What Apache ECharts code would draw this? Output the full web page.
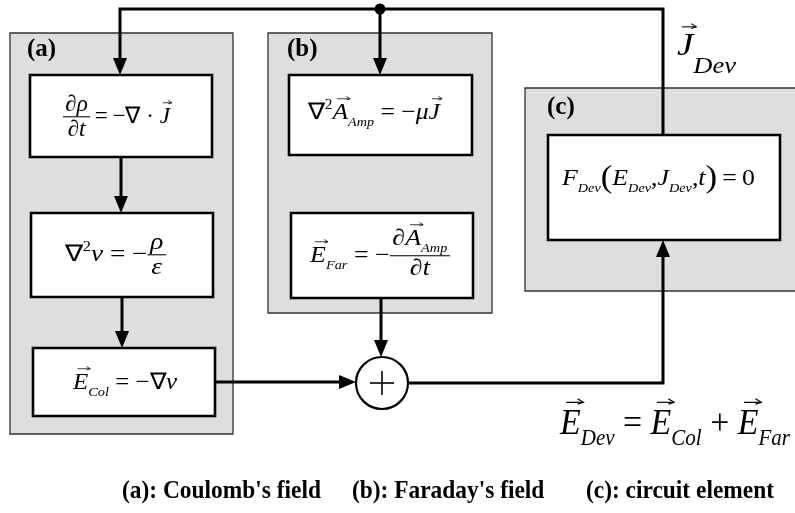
<!DOCTYPE html>
<html><head><meta charset="utf-8">
<script src="https://cdn.jsdelivr.net/npm/echarts@6/dist/echarts.min.js"></script>
<style>html,body{margin:0;padding:0;background:#fff}#main{width:795px;height:513px}</style>
</head><body><div id="main"></div>
<script>
// ---------- diagram content ----------
const panelNames = ['(a)', '(b)', '(c)'];
const panelRects = [[10, 33, 233, 434], [268, 33, 492, 313], [525, 88, 800, 291]];
const panelLabelPos = [[27, 50], [287, 50], [547, 108]];
const boxRects = [[30, 75, 212, 157], [31, 213, 213, 297], [33, 348, 215, 416],
                  [289, 75, 472, 155], [291, 213, 473, 298], [548, 135, 780, 240]];
const wires = [
  [[663, 135], [663, 9], [120, 9], [120, 75]],
  [[380, 9], [380, 75]],
  [[121, 157], [121, 213]],
  [[122, 297], [122, 348]],
  [[381, 298], [381, 357]],
  [[215, 382], [356, 382]],
  [[408, 383], [663, 383], [663, 240]]
];
const junctions = [[380, 9]];
const sumNodes = [[382, 383]];
const legendTexts = ["(a): Coulomb's field", "(b): Faraday's field", "(c): circuit element"];
const legendPos = [[122, 491], [352, 491], [586, 491]];

// formula token lists
const formulaTokens = [
  [{frac: [[{t: '∂'}, {t: 'ρ', f: 'i'}], [{t: '∂'}, {t: 't', f: 'i'}]]}, {t: '\u2009=\u2009−∇ · '}, {v: 'J'}],
  [{t: '∇'}, {sup: '2'}, {t: 'v', f: 'i'}, {t: ' = −'}, {frac: [[{t: 'ρ', f: 'i'}], [{t: 'ε', f: 'i'}]]}],
  [{v: 'E'}, {sub: 'Col'}, {t: ' = −∇'}, {t: 'v', f: 'i'}],
  [{t: '∇'}, {sup: '2'}, {v: 'A'}, {sub: 'Amp'}, {t: ' = −'}, {t: 'μ', f: 'i'}, {v: 'J'}],
  [{v: 'E'}, {sub: 'Far'}, {t: ' = −'}, {frac: [[{t: '∂'}, {v: 'A'}, {sub: 'Amp'}], [{t: '∂'}, {t: 't', f: 'i'}]]}],
  [{t: 'F', f: 'i'}, {sub: 'Dev'}, {t: '(', s: 1.35, dy: 0.08}, {t: 'E', f: 'i'}, {sub: 'Dev'}, {t: ','}, {t: 'J', f: 'i'}, {sub: 'Dev'}, {t: ','}, {t: 't', f: 'i'}, {t: ')', s: 1.35, dy: 0.08}, {t: '\u2009=\u20090'}],
  [{v: 'J'}, {sub: 'Dev'}],
  [{v: 'E'}, {sub: 'Dev'}, {t: ' = '}, {v: 'E'}, {sub: 'Col'}, {t: ' + '}, {v: 'E'}, {sub: 'Far'}]
];
// layout of formulas: [leftX, rightX, baselineY, fontSize, subScale, subDrop]
const formulaLayout = [
  [63, 170, 123, 23, 0.6, 0.3],
  [65, 166, 261, 23, 0.6, 0.3],
  [73, 177, 389, 23, 0.58, 0.32],
  [308, 440, 119, 23, 0.55, 0.32],
  [310, 450, 262, 23, 0.55, 0.32],
  [562, 755, 185, 23, 0.55, 0.32],
  [677, 736, 55, 32, 0.72, 0.56],
  [560, 790, 434, 36, 0.62, 0.3]
];

// ---------- text layout helpers ----------
const FONT = '"Liberation Serif","Times New Roman",serif';
const ctx = document.createElement('canvas').getContext('2d');
function fnt(st, size) {
  return (st.indexOf('i') >= 0 ? 'italic ' : '') + (st.indexOf('b') >= 0 ? 'bold ' : '') + size.toFixed(1) + 'px ' + FONT;
}
function mw(text, font) { ctx.font = font; ctx.textBaseline = 'alphabetic'; return ctx.measureText(text).width; }
function midOff(font) { ctx.font = font; ctx.textBaseline = 'middle'; const m = ctx.measureText('H'); ctx.textBaseline = 'alphabetic'; return m.actualBoundingBoxDescent; }
function shift(it, dx, dy) {
  const c = Object.assign({}, it);
  if (c.x != null) c.x += dx;
  if (c.x1 != null) { c.x1 += dx; c.x2 += dx; }
  c.y += dy; return c;
}
function lay(tokens, fs, o) {
  const items = []; let x = 0, hasSub = false;
  for (const tk of tokens) {
    if (tk.frac) {
      const n = lay(tk.frac[0], fs, o), d = lay(tk.frac[1], fs, o);
      const w = Math.max(n.w, d.w) + 0.2 * fs;
      const ax = -0.27 * fs;
      const numBase = ax - 0.27 * fs - (n.hasSub ? 0.2 * fs : 0);
      items.push({k: 'line', x1: x, x2: x + w, y: ax, lw: fs / 22});
      n.items.forEach(it => items.push(shift(it, x + (w - n.w) / 2, numBase)));
      d.items.forEach(it => items.push(shift(it, x + (w - d.w) / 2, ax + 0.85 * fs)));
      x += w; continue;
    }
    let txt, st, size, dy = 0;
    if (tk.sub != null) { txt = tk.sub; st = 'i'; size = fs * o.subS; dy = o.subDy * fs; hasSub = true; }
    else if (tk.sup != null) { txt = tk.sup; st = 'r'; size = fs * 0.6; dy = -0.42 * fs; }
    else if (tk.v != null) { txt = tk.v; st = 'i'; size = fs; }
    else { txt = tk.t; st = tk.f || 'r'; size = fs * (tk.s || 1); dy = (tk.dy || 0) * fs; }
    const font = fnt(st, size); const w = mw(txt, font);
    items.push({k: 'text', x: x, y: dy, text: txt, font: font});
    if (tk.v != null) items.push({k: 'vec', x1: x + 0.3 * w, x2: x + w + 0.08 * fs, y: -0.88 * fs, fs: fs});
    x += w;
  }
  return {w: x, items: items, hasSub: hasSub};
}
function toEls(L, x0, base, hx) {
  const els = [];
  L.items.forEach(it => {
    if (it.k === 'text') {
      els.push({type: 'text', x: x0 + it.x * hx, y: base + it.y - midOff(it.font), scaleX: hx,
        style: {text: it.text, font: it.font, fill: '#000', align: 'left', verticalAlign: 'middle'}});
    } else if (it.k === 'line') {
      els.push({type: 'line', shape: {x1: x0 + it.x1 * hx, y1: base + it.y, x2: x0 + it.x2 * hx, y2: base + it.y},
        style: {stroke: '#000', lineWidth: it.lw}});
    } else if (it.k === 'vec') {
      const a = x0 + it.x1 * hx, b = x0 + it.x2 * hx, y = base + it.y, h = it.fs * 0.1;
      els.push({type: 'line', shape: {x1: a, y1: y, x2: b, y2: y}, style: {stroke: '#000', lineWidth: it.fs / 30}});
      els.push({type: 'polyline', shape: {points: [[b - h * 1.6, y - h], [b, y], [b - h * 1.6, y + h * 0.5]]},
        style: {stroke: '#000', fill: null, lineWidth: it.fs / 30}});
    }
  });
  return els;
}

// ---------- chart ----------
const chart = echarts.init(document.getElementById('main'), null, {renderer: 'canvas'});
function arrowHead(p, q) {
  const dx = q[0] - p[0], dy = q[1] - p[1], L = Math.hypot(dx, dy);
  const ux = dx / L, uy = dy / L, len = 17, hw = 7;
  const bx = q[0] - ux * len, by = q[1] - uy * len;
  return [[q[0], q[1]], [bx - uy * hw, by + ux * hw], [bx + uy * hw, by - ux * hw]];
}
const option = {
  animation: false,
  backgroundColor: '#fff',
  grid: {left: 0, right: 0, top: 0, bottom: 0},
  xAxis: {type: 'value', min: 0, max: 795, show: false},
  yAxis: {type: 'value', min: 0, max: 513, inverse: true, show: false},
  series: [
    { // panels
      type: 'custom', silent: true, clip: false,
      data: panelRects.map((r, i) => [r[0], r[1], r[2], r[3], i]),
      encode: {x: [0, 2], y: [1, 3]},
      renderItem: function (params, api) {
        const p0 = api.coord([api.value(0), api.value(1)]), p1 = api.coord([api.value(2), api.value(3)]);
        const i = api.value(4), lp = api.coord(panelLabelPos[i]);
        return {type: 'group', children: [
          {type: 'rect', shape: {x: p0[0], y: p0[1], width: p1[0] - p0[0], height: p1[1] - p0[1]},
            style: {fill: '#dedede', stroke: '#333', lineWidth: 1.3}},
          {type: 'text', x: lp[0], y: lp[1], style: {text: panelNames[i], font: fnt('b', 25), fill: '#000', align: 'left', verticalAlign: 'middle'}}
        ]};
      }
    },
    { // boxes
      type: 'custom', silent: true, clip: false,
      data: boxRects.map(r => [r[0], r[1], r[2], r[3]]),
      encode: {x: [0, 2], y: [1, 3]},
      renderItem: function (params, api) {
        const p0 = api.coord([api.value(0), api.value(1)]), p1 = api.coord([api.value(2), api.value(3)]);
        return {type: 'rect', shape: {x: p0[0], y: p0[1], width: p1[0] - p0[0], height: p1[1] - p0[1]},
          style: {fill: '#fff', stroke: '#000', lineWidth: 2.6}};
      }
    },
    { // wires with arrows
      type: 'custom', silent: true, clip: false,
      data: wires.map((w, i) => [w[0][0], w[0][1], i]),
      encode: {x: 0, y: 1},
      renderItem: function (params, api) {
        const pts = wires[api.value(2)].map(p => api.coord(p));
        const n = pts.length;
        const head = arrowHead(pts[n - 2], pts[n - 1]);
        const end = pts.slice();
        const dx = pts[n - 1][0] - pts[n - 2][0], dy = pts[n - 1][1] - pts[n - 2][1], L = Math.hypot(dx, dy);
        end[n - 1] = [pts[n - 1][0] - dx / L * 10, pts[n - 1][1] - dy / L * 10];
        return {type: 'group', children: [
          {type: 'polyline', shape: {points: end}, style: {stroke: '#000', lineWidth: 3, fill: null, lineJoin: 'miter'}},
          {type: 'polygon', shape: {points: head}, style: {fill: '#000'}}
        ]};
      }
    },
    { // junction dots
      type: 'custom', silent: true, clip: false,
      data: junctions, encode: {x: 0, y: 1},
      renderItem: function (params, api) {
        const c = api.coord([api.value(0), api.value(1)]);
        return {type: 'circle', shape: {cx: c[0], cy: c[1], r: 5.5}, style: {fill: '#000'}};
      }
    },
    { // summing node
      type: 'custom', silent: true, clip: false,
      data: sumNodes, encode: {x: 0, y: 1},
      renderItem: function (params, api) {
        const c = api.coord([api.value(0), api.value(1)]);
        return {type: 'group', children: [
          {type: 'circle', shape: {cx: c[0], cy: c[1], r: 26}, style: {fill: '#fff', stroke: '#000', lineWidth: 2.2}},
          {type: 'line', shape: {x1: c[0] - 12, y1: c[1], x2: c[0] + 12, y2: c[1]}, style: {stroke: '#000', lineWidth: 1.6}},
          {type: 'line', shape: {x1: c[0], y1: c[1] - 12, x2: c[0], y2: c[1] + 12}, style: {stroke: '#000', lineWidth: 1.6}}
        ]};
      }
    },
    { // formulas
      type: 'custom', silent: true, clip: false,
      data: formulaLayout.map((f, i) => [f[0], f[2], i]),
      encode: {x: 0, y: 1},
      renderItem: function (params, api) {
        const i = api.value(2), f = formulaLayout[i];
        const a = api.coord([f[0], f[2]]), b = api.coord([f[1], f[2]]);
        const L = lay(formulaTokens[i], f[3], {subS: f[4], subDy: f[5]});
        const hx = (b[0] - a[0]) / L.w;
        return {type: 'group', children: toEls(L, a[0], a[1], hx)};
      }
    },
    { // legend captions
      type: 'custom', silent: true, clip: false,
      data: legendPos.map((p, i) => [p[0], p[1], i]),
      encode: {x: 0, y: 1},
      renderItem: function (params, api) {
        const i = api.value(2), c = api.coord([api.value(0), api.value(1)]);
        return {type: 'text', x: c[0], y: c[1], scaleX: 0.9,
          style: {text: legendTexts[i], font: fnt('b', 26), fill: '#000', align: 'left', verticalAlign: 'middle'}};
      }
    }
  ]
};
chart.setOption(option);
</script>
</body></html>
